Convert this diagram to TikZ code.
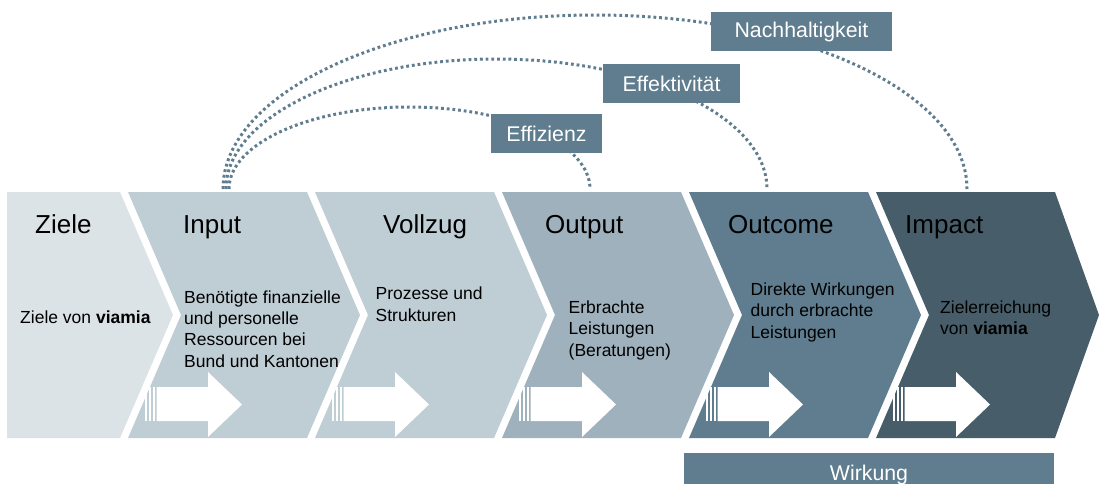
\documentclass[tikz,border=0pt]{standalone}
\usepackage{fontspec}
\setmainfont{Liberation Sans}
\definecolor{zielefill}{HTML}{DCE3E7}
\definecolor{inputfill}{HTML}{BFCDD5}
\definecolor{outputfill}{HTML}{9FB1BD}
\definecolor{outcomefill}{HTML}{5F7D8E}
\definecolor{impactfill}{HTML}{475E6A}
\definecolor{tagfill}{HTML}{5F7D8E}
\begin{document}
\begin{tikzpicture}[
    x=1pt, y=-1pt,
    title/.style={font=\fontsize{26}{31}\selectfont, anchor=base west, inner sep=0pt},
    body/.style={font=\fontsize{17.5}{21.3}\selectfont, align=left, anchor=base west, inner sep=0pt},
    tag/.style={fill=tagfill, text=white, font=\fontsize{21.3}{25}\selectfont, minimum height=39pt, inner sep=0pt},
    arc line/.style={draw=tagfill, line width=3pt, dash pattern=on 2.8pt off 2.9pt},
    speed arrow/.pic={
        \fill[white] (17,387) rectangle (18.5,421);
        \fill[white] (21.2,387) rectangle (22.7,421);
        \fill[white] (25.2,387) rectangle (26.7,421);
        \fill[white] (28.5,387) -- (80,387) -- (80,372) -- (114,404.5) -- (80,437) -- (80,421) -- (28.5,421) -- cycle;
    }
]
    \useasboundingbox (0,0) rectangle (1100,484);
    \clip (0,0) rectangle (1100,484);

    % chevrons
    \fill[zielefill] (7,192) -- (120,192) -- (173,315) -- (120,438) -- (7,438) -- cycle;
    \fill[inputfill] (128,192) -- (307,192) -- (360,315) -- (307,438) -- (128,438) -- (181,315) -- cycle;
    \fill[inputfill] (315,192) -- (494,192) -- (547,315) -- (494,438) -- (315,438) -- (368,315) -- cycle;
    \fill[outputfill] (502,192) -- (681,192) -- (734,315) -- (681,438) -- (502,438) -- (555,315) -- cycle;
    \fill[outcomefill] (689,192) -- (868,192) -- (921,315) -- (868,438) -- (689,438) -- (742,315) -- cycle;
    \fill[impactfill] (876,192) -- (1055,192) -- (1099,315) -- (1055,438) -- (876,438) -- (929,315) -- cycle;

    \pic at (128,0) {speed arrow};
    \pic at (315,0) {speed arrow};
    \pic at (502,0) {speed arrow};
    \pic at (689,0) {speed arrow};
    \pic at (876,0) {speed arrow};

    \node[title] (ziele) at (35,233) {Ziele};
    \node[title] (input) at (183,233) {Input};
    \node[title] (vollzug) at (383,233) {Vollzug};
    \node[title] (output) at (545,233) {Output};
    \node[title] (outcome) at (728,233) {Outcome};
    \node[title] (impact) at (905,233) {Impact};

    % body texts, placed at the baseline of their last line
    \node[body] (zieletxt) at (20,323) {Ziele von \textbf{viamia}};
    \node[body] (inputtxt) at (184,367) {Benötigte finanzielle\\und personelle\\Ressourcen bei\\Bund und Kantonen};
    \node[body] (vollzugtxt) at (375.5,321) {Prozesse und\\Strukturen};
    \node[body] (outputtxt) at (568.5,356) {Erbrachte\\Leistungen\\(Beratungen)};
    \node[body] (outcometxt) at (750.5,338) {Direkte Wirkungen\\durch erbrachte\\Leistungen};
    \node[body] (impacttxt) at (940,334.5) {Zielerreichung\\von \textbf{viamia}};

    % dotted arcs
    \coordinate (effs) at (229,189);
    \coordinate (effk) at (226,189);
    \coordinate (nach) at (223,189);
    \draw[arc line] (effs) arc[start angle=180, end angle=360, x radius=180.5, y radius=82];
    \draw[arc line] (effk) arc[start angle=180, end angle=360, x radius=270.5, y radius=130];
    \draw[arc line] (nach) arc[start angle=180, end angle=360, x radius=372, y radius=174];

    \node[tag, minimum width=111pt] (effizienz) at (546.5,133.5) {Effizienz};
    \node[tag, minimum width=137pt] (effektivitaet) at (671.5,83.5) {Effektivität};
    \node[tag, minimum width=181pt] (nachhaltigkeit) at (801.5,31.5) {Nachhaltigkeit};
    \node[tag, minimum width=370pt, minimum height=43pt] (wirkung) at (869,474.5) {Wirkung};
\end{tikzpicture}
\end{document}
